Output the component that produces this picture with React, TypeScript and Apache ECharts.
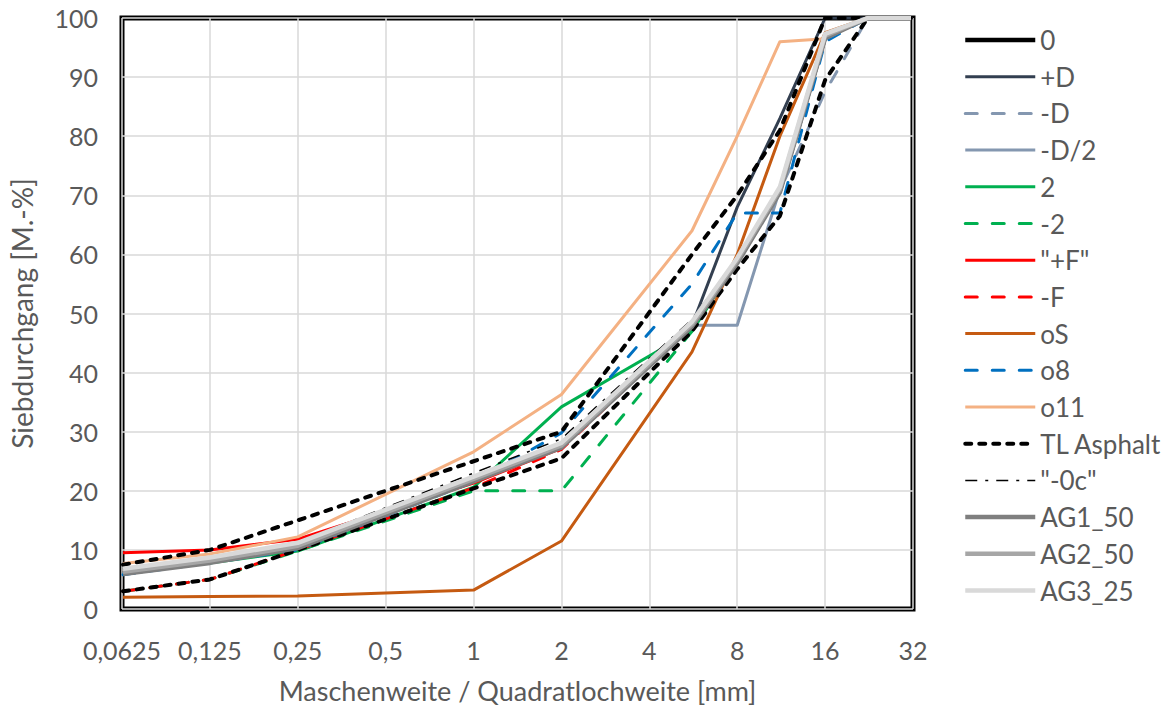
import React, { useEffect, useRef } from "react";
import * as echarts from "echarts";

// Sieve sizes [mm]
const sieves = [0.063, 0.125, 0.25, 1, 2, 5.6, 8, 11.2, 16, 22.4, 31.5];

// Passing percentages [M.-%] per grading curve
const s0 = [6.0, 8.0, 10.5, 21.8, 27.5, 48.0, 58.8, 70.8, 96.8, 100, 100];
const plusD = [6.0, 8.0, 10.5, 21.8, 27.5, 48.0, 68.0, 83.0, 100, 100, 100];
const minusD = [6.0, 8.0, 10.5, 21.8, 27.5, 48.0, 58.8, 70.8, 87.5, 100, 100];
const minusDHalf = [6.0, 8.0, 10.5, 21.8, 27.5, 48.0, 48.0, 71.0, 96.8, 100, 100];
const two = [6.0, 7.8, 9.8, 20.6, 34.2, 47.0, 58.8, 70.8, 96.8, 100, 100];
const minusTwo = [3.0, 5.0, 9.8, 20.0, 20.0, 47.0, 58.8, 70.8, 96.8, 100, 100];
const plusF = [9.5, 10.0, 11.8, 21.3, 27.2, 48.0, 58.8, 70.8, 96.8, 100, 100];
const minusF = [3.0, 5.0, 10.0, 20.5, 27.0, 48.0, 58.8, 70.8, 96.8, 100, 100];
const oS = [2.0, 2.1, 2.2, 3.2, 11.5, 43.5, 60.0, 80.0, 97.5, 100, 100];
const o8 = [5.8, 7.8, 10.0, 21.5, 29.8, 55.0, 67.0, 67.0, 96.0, 100, 100];
const o11 = [7.7, 9.3, 12.2, 26.6, 36.3, 64.0, 80.0, 96.0, 96.5, 100, 100];
const tlUpper = [7.5, 10.0, 15.0, 25.0, 30.0, 60.0, 70.0, 81.0, 100, 100, 100];
const tlLower = [3.0, 5.0, 10.0, 20.4, 25.5, 47.0, 57.5, 66.5, 89.5, 100, 100];
const minus0c = [6.8, 8.8, 11.3, 23.0, 28.8, 49.0, 59.5, 71.5, 97.0, 100, 100];
const ag1 = [5.9, 7.8, 10.3, 21.6, 27.3, 47.8, 58.5, 70.5, 96.6, 100, 100];
const ag2 = [6.3, 8.2, 10.7, 22.0, 27.7, 48.2, 59.0, 71.0, 97.0, 100, 100];
const ag3 = [6.8, 8.7, 11.2, 22.4, 28.1, 48.6, 59.4, 71.4, 97.3, 100, 100];

const FONT = "Lato";
const TEXT = "#595959";

type Curve = {
  name: string;
  values: number[];
  color: string;
  width: number;
  dash?: number[];
  cap?: "butt" | "round";
};

const curves: Curve[] = [
  { name: "0", values: s0, color: "#000000", width: 4.5 },
  { name: "+D", values: plusD, color: "#333F50", width: 3 },
  { name: "-D", values: minusD, color: "#8497B0", width: 3, dash: [12, 15], cap: "round" },
  { name: "-D/2", values: minusDHalf, color: "#8497B0", width: 3 },
  { name: "2", values: two, color: "#00B050", width: 3 },
  { name: "-2", values: minusTwo, color: "#00B050", width: 3, dash: [12, 15], cap: "round" },
  { name: '"+F"', values: plusF, color: "#FF0000", width: 3 },
  { name: "-F", values: minusF, color: "#FF0000", width: 3, dash: [12, 15], cap: "round" },
  { name: "oS", values: oS, color: "#C55A11", width: 3 },
  { name: "o8", values: o8, color: "#0070C0", width: 3, dash: [12, 15], cap: "round" },
  { name: "o11", values: o11, color: "#F4B183", width: 3 },
  { name: "TL Asphalt", values: tlUpper, color: "#000000", width: 4, dash: [6, 8], cap: "round" },
  { name: "TL Asphalt", values: tlLower, color: "#000000", width: 4, dash: [6, 8], cap: "round" },
  { name: '"-0c"', values: minus0c, color: "#000000", width: 1.5, dash: [12, 8, 3, 8] },
  { name: "AG1_50", values: ag1, color: "#7F7F7F", width: 4.5 },
  { name: "AG2_50", values: ag2, color: "#A6A6A6", width: 4.5 },
  { name: "AG3_25", values: ag3, color: "#D9D9D9", width: 4.5 },
];

const fmt = (v: number) => String(Math.round(v * 10000) / 10000).replace(".", ",");

const lineStyleOf = (c: Curve) => ({
  color: c.color,
  width: c.width,
  type: c.dash ? c.dash : "solid",
  cap: c.cap ?? "butt",
  join: "round",
});

export default function App() {
  const ref = useRef<HTMLDivElement>(null);

  useEffect(() => {
    document.body.style.margin = "0";
    if (!ref.current) return;
    const chart = echarts.init(ref.current, undefined, { renderer: "svg" });

    // one legend entry per distinct name (both TL Asphalt limits share one)
    const legendItems = curves
      .filter((c, i, a) => a.findIndex((d) => d.name === c.name) === i)
      .map((c) => ({ name: c.name, lineStyle: lineStyleOf(c) }));

    chart.setOption({
      animation: false,
      backgroundColor: "#ffffff",
      grid: {
        left: 119,
        right: 259,
        top: 18,
        bottom: 102,
        show: true,
        borderColor: "#000000",
        borderWidth: 5,
        containLabel: false,
      },
      legend: {
        orient: "vertical",
        left: 963,
        top: 25,
        padding: 0,
        itemWidth: 70,
        itemHeight: 14,
        itemGap: 6.7,
        selectedMode: false,
        itemStyle: { opacity: 0 },
        textStyle: { fontFamily: FONT, fontSize: 26, color: TEXT, lineHeight: 30 },
        data: legendItems,
      },
      xAxis: {
        type: "log",
        logBase: 2,
        min: 0.0625,
        max: 32,
        interval: 1,
        name: "Maschenweite / Quadratlochweite [mm]",
        nameLocation: "middle",
        nameGap: 68,
        nameTextStyle: { fontFamily: FONT, fontSize: 27, color: TEXT },
        axisLine: { show: false },
        axisTick: { show: false },
        axisLabel: {
          fontFamily: FONT,
          fontSize: 25,
          color: TEXT,
          margin: 28,
          formatter: (v: number) => fmt(v),
        },
        splitLine: { show: true, lineStyle: { color: "#D9D9D9", width: 1.5 } },
      },
      yAxis: {
        type: "value",
        min: 0,
        max: 100,
        interval: 10,
        name: "Siebdurchgang [M.-%]",
        nameLocation: "middle",
        nameGap: 86,
        nameTextStyle: { fontFamily: FONT, fontSize: 28, color: TEXT },
        axisLine: { show: false },
        axisTick: { show: false },
        axisLabel: { fontFamily: FONT, fontSize: 25, color: TEXT, margin: 24 },
        splitLine: { show: true, lineStyle: { color: "#D9D9D9", width: 1.5 } },
      },
      series: curves.map((c) => ({
        type: "line",
        name: c.name,
        data: sieves.map((s, i) => [s, c.values[i]]),
        showSymbol: false,
        symbol: "none",
        silent: true,
        lineStyle: lineStyleOf(c),
        itemStyle: { color: c.color },
        emphasis: { disabled: true },
      })),
    });
    return () => chart.dispose();
  }, []);

  return <div ref={ref} style={{ width: 1172, height: 711 }} />;
}
